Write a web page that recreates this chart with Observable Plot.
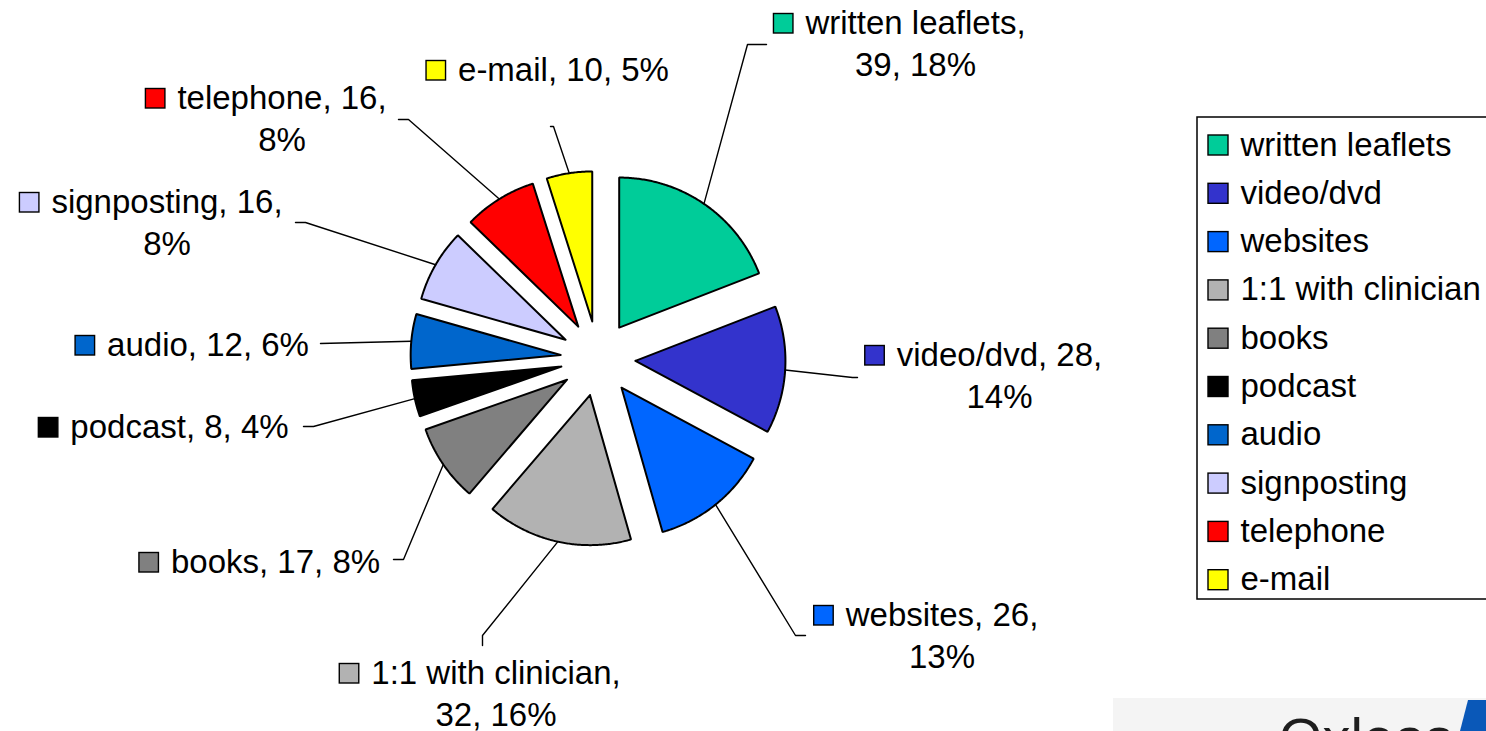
<!DOCTYPE html>
<html>
<head>
<meta charset="utf-8">
<script src="https://cdn.jsdelivr.net/npm/d3@7"></script>
<script src="https://cdn.jsdelivr.net/npm/@observablehq/plot@0.6"></script>
<style>
  html, body { margin: 0; padding: 0; background: #fff; }
  #wrap { position: relative; width: 1486px; height: 731px; overflow: hidden; background: #fff; }
  #chart { position: absolute; left: 0; top: 0; }
  #logo { position: absolute; left: 0; top: 0; pointer-events: none; }
</style>
</head>
<body>
<div id="wrap">
  <div id="chart"></div>
  <svg id="logo" width="1486" height="731">
    <rect x="1113" y="698" width="373" height="33" fill="#f4f4f4"></rect>
    <text x="1279" y="757" font-family="Liberation Sans, Arial, sans-serif" font-size="56" fill="#1e1e1e">Oxleas</text>
    <polygon points="1468,700 1486,700 1486,731 1460,731" fill="#0a58b8"></polygon>
  </svg>
</div>
<script>
// ---------- data ----------
const categories = ["written leaflets", "video/dvd", "websites", "1:1 with clinician", "books",
                    "podcast", "audio", "signposting", "telephone", "e-mail"];
const values = [39, 28, 26, 32, 17, 8, 12, 16, 16, 10];
const percentLabels = [18, 14, 13, 16, 8, 4, 6, 8, 8, 5];
const colors = ["#00CC99", "#3333CC", "#0066FF", "#B2B2B2", "#808080",
                "#000000", "#0066CC", "#CCCCFF", "#FF0000", "#FFFF00"];

// ---------- layout (chart units = px, origin at pie centre, y up) ----------
const W = 1486, H = 731;
const CX = 597.5, CY = 358;         // pie centre on the page
const R = 150, EXPLODE = 37.5;      // radius and explosion offset
const FONT = 33, LINE = 42, GAP = 12, SW = 19.5;
// label block: centre x of text, baseline of first line, line break style, leader path after the arc point
const labelLayout = [
  {cx: 317.5,  base: 325,  brk: "name",  path: [[149.5, 314], [168.5, 314]]},
  {cx: 401.5,  base: -7,   brk: "value", path: [[254.5, -19], [259.5, -19]]},
  {cx: 344,    base: -267, brk: "value", path: [[197.5, -277], [207.5, -277]]},
  {cx: -102,   base: -325, brk: "name",  path: [[-115.5, -277], [-115.5, -287]]},
  {cx: -322.5, base: -214, brk: null,    path: [[-194.5, -201], [-204.5, -201]]},
  {cx: -418.5, base: -79,  brk: null,    path: [[-284.5, -68], [-294.5, -68]]},
  {cx: -390,   base: 3,    brk: null,    path: [[-277.5, 15]]},
  {cx: -431,   base: 146,  brk: "value", path: [[-292.5, 136], [-302.5, 136]]},
  {cx: -316,   base: 250,  brk: "value", path: [[-189.5, 239], [-199.5, 239]]},
  {cx: -34.5,  base: 278,  brk: null,    path: [[-44.5, 232], [-47.5, 232]]}
];
const LEG = {boxX1: 599.5, boxX2: 905, boxY1: -241, boxY2: 241, x: 610.5, top: 223, step: 48.3, sw: 20, textX: 642.5};

// ---------- build ----------
const data = categories.map((name, i) => ({name, value: values[i], pct: percentLabels[i]}));
const arcs = d3.pie().sort(null).value(d => d.value)(data);
const polar = (a, r) => [r * Math.sin(a), r * Math.cos(a)];

const wedgePts = arcs.flatMap(a => {
  const name = a.data.name;
  const m = (a.startAngle + a.endAngle) / 2;
  const [ox, oy] = polar(m, EXPLODE);
  const n = Math.ceil((a.endAngle - a.startAngle) / (Math.PI / 360));
  const ring = d3.range(n + 1).map(k => {
    const [px, py] = polar(a.startAngle + (a.endAngle - a.startAngle) * k / n, R);
    return {name, x: ox + px, y: oy + py};
  });
  return [{name, x: ox, y: oy}, ...ring, {name, x: ox, y: oy}];
});

const leaderPts = arcs.flatMap((a, i) => {
  const name = a.data.name;
  const m = (a.startAngle + a.endAngle) / 2;
  const [ox, oy] = polar(m, EXPLODE);
  const [px, py] = polar(m, R);
  return [{name, x: ox + px, y: oy + py}, ...labelLayout[i].path.map(([x, y]) => ({name, x, y}))];
});

const ctx = document.createElement("canvas").getContext("2d");
ctx.font = `${FONT}px "Liberation Sans", Arial, sans-serif`;
const measure = s => ctx.measureText(s).width;

const labelLines = [], labelMarkers = [];
data.forEach((d, i) => {
  const L = labelLayout[i];
  let lines;
  if (L.brk === "name") lines = [`${d.name},`, `${d.value}, ${d.pct}%`];
  else if (L.brk === "value") lines = [`${d.name}, ${d.value},`, `${d.pct}%`];
  else lines = [`${d.name}, ${d.value}, ${d.pct}%`];
  lines.forEach((t, k) => labelLines.push({text: t, x: L.cx, y: L.base - k * LINE}));
  const w = measure(lines[0]);
  const x2 = L.cx - w / 2 - GAP;
  labelMarkers.push({name: d.name, x1: x2 - SW, x2, y1: L.base, y2: L.base + SW});
});

const legendRows = categories.map((name, i) => ({name, i}));

const chart = Plot.plot({
  width: W,
  height: H,
  margin: 0,
  style: {fontFamily: '"Liberation Sans", Arial, sans-serif', background: "transparent", overflow: "hidden"},
  x: {domain: [-CX, W - CX], axis: null},
  y: {domain: [CY - H, CY], axis: null},
  color: {domain: categories, range: colors},
  marks: [
    Plot.line(wedgePts, {x: "x", y: "y", z: "name", fill: "name", stroke: "black", strokeWidth: 2, strokeLinejoin: "miter"}),
    Plot.line(leaderPts, {x: "x", y: "y", z: "name", stroke: "black", strokeWidth: 1.4}),
    Plot.rect(labelMarkers, {x1: "x1", x2: "x2", y1: "y1", y2: "y2", fill: "name", stroke: "black", strokeWidth: 1.4}),
    Plot.text(labelLines, {x: "x", y: "y", text: "text", textAnchor: "middle", lineAnchor: "bottom", fontSize: FONT, fill: "black"}),
    // legend
    Plot.rect([0], {x1: () => LEG.boxX1, x2: () => LEG.boxX2, y1: () => LEG.boxY1, y2: () => LEG.boxY2, fill: "none", stroke: "black", strokeWidth: 1.5}),
    Plot.rect(legendRows, {
      x1: () => LEG.x, x2: () => LEG.x + LEG.sw,
      y1: d => LEG.top - LEG.sw - d.i * LEG.step, y2: d => LEG.top - d.i * LEG.step,
      fill: "name", stroke: "black", strokeWidth: 1.4
    }),
    Plot.text(legendRows, {
      x: () => LEG.textX, y: d => LEG.top - LEG.sw - d.i * LEG.step, text: "name",
      textAnchor: "start", lineAnchor: "bottom", fontSize: FONT, fill: "black"
    })
  ]
});
document.getElementById("chart").appendChild(chart);
</script>
</body>
</html>
